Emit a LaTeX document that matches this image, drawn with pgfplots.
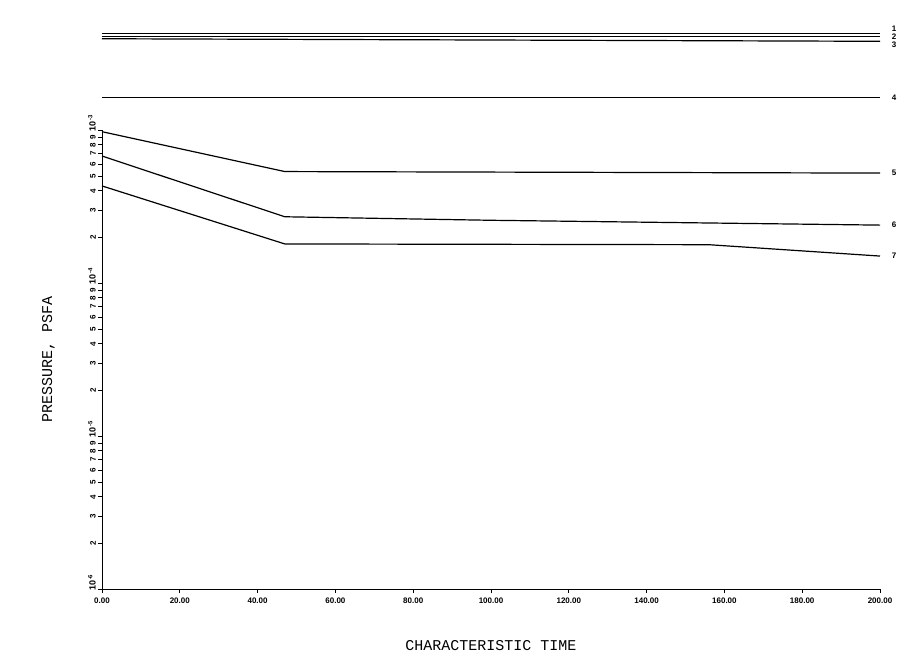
\documentclass[border=0pt]{standalone}
\usepackage{fontspec}
\setmainfont{Liberation Sans}
\newfontfamily\monofont{Liberation Mono}
\usepackage{pgfplots}
\pgfplotsset{compat=1.18}
\newcommand{\dec}[1]{\makebox[0pt][l]{\kern-1pt\fontsize{9}{10}\selectfont\textbf{10}\raisebox{0.7ex}{\fontsize{6}{7}\selectfont\textbf{#1}}}}
\begin{document}
\begin{tikzpicture}
\useasboundingbox (-102pt,-82pt) rectangle (811pt,589pt);
\begin{axis}[
  at={(0pt,0pt)}, anchor=south west,
  scale only axis, width=778pt, height=459pt,
  xmin=0, xmax=200, ymode=log, ymin=1e-6, ymax=1e-3,
  axis x line=bottom, axis y line=left,
  axis line style={-, line width=0.9pt},
  clip=false,
  tick align=outside,
  major tick length=4pt,
  every tick/.style={black, line width=0.8pt},
  cycle list={{black, solid, mark=none}},
  every axis plot/.append style={line width=1.2pt},
  xtick={0,20,40,60,80,100,120,140,160,180,200},
  xticklabels={0.00,20.00,40.00,60.00,80.00,100.00,120.00,140.00,160.00,180.00,200.00},
  xticklabel style={font=\fontsize{8}{9}\selectfont\bfseries, yshift=-1pt},
  ytick={1e-6,2e-6,3e-6,4e-6,5e-6,6e-6,7e-6,8e-6,9e-6,
         1e-5,2e-5,3e-5,4e-5,5e-5,6e-5,7e-5,8e-5,9e-5,
         1e-4,2e-4,3e-4,4e-4,5e-4,6e-4,7e-4,8e-4,9e-4,1e-3},
  yticklabels={\dec{-6},2,3,4,5,6,7,8,9,\dec{-5},2,3,4,5,6,7,8,9,\dec{-4},2,3,4,5,6,7,8,9,\dec{-3}},
  minor ytick={},
  yticklabel style={font=\fontsize{8}{9}\selectfont\bfseries, rotate=90, anchor=south, inner sep=2pt},
  xlabel={\monofont CHARACTERISTIC TIME},
  ylabel={\monofont PRESSURE,  PSFA},
  xlabel style={font=\fontsize{15}{17}\selectfont, yshift=-30pt},
  ylabel style={font=\fontsize{15}{17}\selectfont, yshift=28pt},
]
\addplot coordinates {(0,4.25e-3) (200,4.25e-3)} node[pos=1, right, xshift=8pt, yshift=5pt, font=\footnotesize\bfseries]{1};
\addplot coordinates {(0,4.1e-3) (200,4.1e-3)} node[pos=1, right, xshift=8pt, font=\footnotesize\bfseries]{2};
\addplot coordinates {(0,3.95e-3) (200,3.8e-3)} node[pos=1, right, xshift=8pt, yshift=-3pt, font=\footnotesize\bfseries]{3};
\addplot coordinates {(0,1.63e-3) (200,1.63e-3)} node[pos=1, right, xshift=8pt, font=\footnotesize\bfseries]{4};
\addplot coordinates {(0,9.75e-4) (47,5.35e-4) (200,5.23e-4)} node[pos=1, right, xshift=8pt, font=\footnotesize\bfseries]{5};
\addplot coordinates {(0,6.76e-4) (47,2.71e-4) (100,2.57e-4) (200,2.39e-4)} node[pos=1, right, xshift=8pt, font=\footnotesize\bfseries]{6};
\addplot coordinates {(0,4.31e-4) (47,1.80e-4) (156,1.78e-4) (200,1.50e-4)} node[pos=1, right, xshift=8pt, font=\footnotesize\bfseries]{7};
\end{axis}
\end{tikzpicture}
\end{document}
